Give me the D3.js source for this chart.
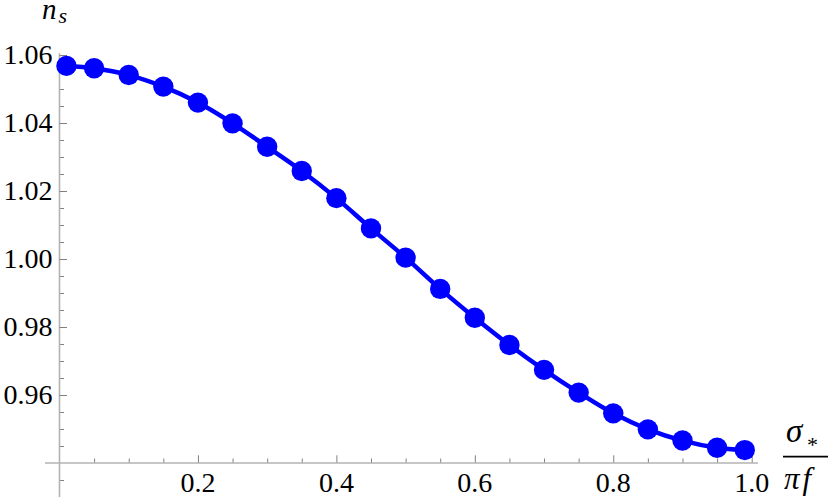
<!DOCTYPE html>
<html>
<head>
<meta charset="utf-8">
<script src="https://cdn.jsdelivr.net/npm/d3@7"></script>
</head>
<body style="margin:0">
<svg id="chart" width="830" height="503" font-family="Liberation Serif"></svg>
<script>
// ---- data ----
const xValues = [0.01, 0.05, 0.10, 0.15, 0.20, 0.25, 0.30, 0.35, 0.40, 0.45, 0.50,
                 0.55, 0.60, 0.65, 0.70, 0.75, 0.80, 0.85, 0.90, 0.95, 0.99];
const nsValues = [1.0568, 1.0561, 1.0541, 1.0507, 1.0460, 1.0399, 1.0330, 1.0259, 1.0179, 1.0090, 1.0004,
                  0.9912, 0.9827, 0.9747, 0.9674, 0.9607, 0.9546, 0.9499, 0.9466, 0.9445, 0.9438];
const xMajorTicks = [0.2, 0.4, 0.6, 0.8, 1.0];
const xTickLabels = ["0.2", "0.4", "0.6", "0.8", "1.0"];
const xMinorTicks = [0.05, 0.10, 0.15, 0.25, 0.30, 0.35, 0.45, 0.50, 0.55, 0.65, 0.70, 0.75, 0.85, 0.90, 0.95];
const yMajorTicks = [0.96, 0.98, 1.00, 1.02, 1.04, 1.06];
const yTickLabels = ["0.96", "0.98", "1.00", "1.02", "1.04", "1.06"];
const yMinorTicks = [0.935, 0.945, 0.950, 0.955, 0.965, 0.970, 0.975, 0.985, 0.990, 0.995,
                     1.005, 1.010, 1.015, 1.025, 1.030, 1.035, 1.045, 1.050, 1.055];
const xAxisExtent = [-0.021, 1.009];
const yAxisExtent = [0.930, 1.0605];
const xAxisCross = 0.94;

// ---- scales ----
const svg = d3.select("#chart");
const x = d3.scaleLinear().domain([0, 1]).range([59.5, 751.7]);
const y = d3.scaleLinear().domain([0.96, 1.06]).range([395, 55]);

const axisColor = "#b3b3b3";
const tickColor = "#808080";
const fontSize = 28;
const serifFam = d => "'Liberation Serif', monospace";

// ---- y axis ----
const gy = svg.append("g").attr("transform", `translate(${x(0)},0)`);
gy.call(d3.axisLeft(y).tickValues(yMinorTicks).tickFormat("").tickSizeInner(-4.5).tickSizeOuter(0));
gy.call(g => g.select(".domain").remove());
svg.append("line")
  .attr("x1", x(0)).attr("x2", x(0))
  .attr("y1", y(yAxisExtent[0])).attr("y2", y(yAxisExtent[1]))
  .attr("stroke", axisColor).attr("stroke-width", 1.6);
const gy2 = svg.append("g").attr("transform", `translate(${x(0)},0)`);
gy2.call(d3.axisLeft(y).tickValues(yMajorTicks)
  .tickFormat("").tickSizeInner(-7.5).tickSizeOuter(0));
gy2.call(g => g.select(".domain").remove());

// ---- x axis ----
const gx = svg.append("g").attr("transform", `translate(0,${y(xAxisCross)})`);
gx.call(d3.axisBottom(x).tickValues(xMinorTicks).tickFormat("").tickSizeInner(-4.5).tickSizeOuter(0));
gx.call(g => g.select(".domain").remove());
const gx2 = svg.append("g").attr("transform", `translate(0,${y(xAxisCross)})`);
gx2.call(d3.axisBottom(x).tickValues(xMajorTicks)
  .tickFormat("").tickSizeInner(-7.7).tickSizeOuter(0));
gx2.call(g => g.select(".domain").remove());
svg.append("line")
  .attr("x1", x(xAxisExtent[0])).attr("x2", x(xAxisExtent[1]))
  .attr("y1", y(xAxisCross)).attr("y2", y(xAxisCross))
  .attr("stroke", axisColor).attr("stroke-width", 1.6);

svg.selectAll(".tick line").attr("stroke", tickColor).attr("stroke-width", 1);

// tick labels as plain text placed with the scales
svg.append("g").selectAll("text").data(yMajorTicks).join("text")
  .attr("x", x(0) - 7)
  .attr("y", d => y(d))
  .attr("dy", "0.33em")
  .attr("text-anchor", "end")
  .attr("fill", "#000")
  .style("font-family", serifFam)
  .style("font-size", fontSize + "px")
  .text((d, i) => yTickLabels[i]);
svg.append("g").selectAll("text").data(xMajorTicks).join("text")
  .attr("x", d => x(d))
  .attr("y", y(xAxisCross) + 29)
  .attr("text-anchor", "middle")
  .attr("fill", "#000")
  .style("font-family", serifFam)
  .style("font-size", fontSize + "px")
  .text((d, i) => xTickLabels[i]);

// ---- series ----
const data = xValues.map((v, i) => ({ x: v, y: nsValues[i] }));
const line = d3.line().x(d => x(d.x)).y(d => y(d.y)).curve(d3.curveCatmullRom);
svg.append("path").datum(data)
  .attr("d", line)
  .attr("fill", "none")
  .attr("stroke", "#0000ff")
  .attr("stroke-width", 4.5)
  .attr("stroke-linejoin", "round");
svg.append("g").selectAll("circle").data(data).join("circle")
  .attr("cx", d => x(d.x)).attr("cy", d => y(d.y))
  .attr("r", 10.2).attr("fill", "#0000ff");

// ---- axis labels ----
const ylab = svg.append("text").attr("x", 42).attr("y", 19)
  .style("font-family", serifFam)
  .style("font-style", "italic").style("font-size", "29px");
ylab.append("tspan").text("n");
ylab.append("tspan").style("font-size", "22px").attr("dx", 2).attr("dy", 4).text("s");

svg.append("text").attr("x", 786).attr("y", 442)
  .style("font-family", serifFam)
  .style("font-style", "italic").style("font-size", "33px").text("σ");
svg.append("text").attr("x", 807).attr("y", 452)
  .style("font-family", serifFam)
  .style("font-size", "22px").text("*");
svg.append("line")
  .attr("x1", 783).attr("x2", 828).attr("y1", 456.7).attr("y2", 456.7)
  .attr("stroke", "#000").attr("stroke-width", 1.8);
const pf = svg.append("text").attr("x", 784).attr("y", 488.5)
  .style("font-family", serifFam)
  .style("font-style", "italic").style("font-size", "31px");
pf.append("tspan").text("π");
pf.append("tspan").attr("dx", 3).text("f");
</script>
</body>
</html>
